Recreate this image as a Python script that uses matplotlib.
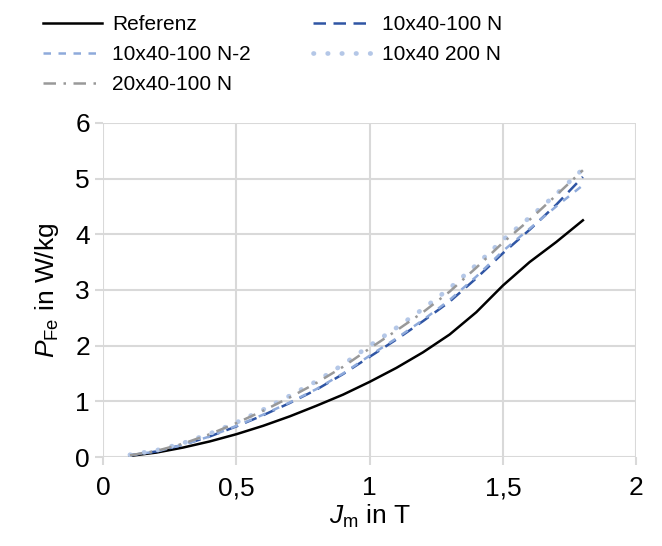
import matplotlib
matplotlib.use("Agg")
import matplotlib.pyplot as plt

plt.rcParams["font.family"] = ["Liberation Sans", "DejaVu Sans"]
plt.rcParams["mathtext.fontset"] = "custom"
plt.rcParams["mathtext.rm"] = "Liberation Sans"
plt.rcParams["mathtext.it"] = "Liberation Sans:italic"

# ── Data ──────────────────────────────────────────────────────────────────────
J = [0.1, 0.2, 0.3, 0.4, 0.5, 0.6, 0.7, 0.8, 0.9, 1.0,
     1.1, 1.2, 1.3, 1.4, 1.5, 1.6, 1.7, 1.8]
referenz = [0.02, 0.08, 0.17, 0.28, 0.41, 0.56, 0.73, 0.92, 1.12, 1.35,
            1.60, 1.88, 2.20, 2.60, 3.08, 3.50, 3.86, 4.25]
p_100n = [0.03, 0.10, 0.22, 0.37, 0.55, 0.75, 0.97, 1.21, 1.49, 1.80,
          2.11, 2.44, 2.79, 3.21, 3.66, 4.08, 4.53, 5.03]
p_100n_2 = [0.03, 0.10, 0.22, 0.37, 0.56, 0.76, 0.98, 1.22, 1.50, 1.82,
            2.13, 2.46, 2.82, 3.24, 3.70, 4.10, 4.50, 4.88]
p_200n = [0.04, 0.12, 0.25, 0.42, 0.62, 0.85, 1.10, 1.36, 1.66, 2.00,
          2.32, 2.66, 3.03, 3.45, 3.90, 4.30, 4.72, 5.17]
p_20x40 = [0.03, 0.11, 0.24, 0.41, 0.61, 0.83, 1.07, 1.33, 1.62, 1.95,
           2.27, 2.60, 2.97, 3.40, 3.85, 4.26, 4.70, 5.15]

# ── Plot ──────────────────────────────────────────────────────────────────────
fig = plt.figure(figsize=(6.62, 5.46), dpi=100)
ax = fig.add_axes([0.156, 0.163, 0.805, 0.612])

l1, = ax.plot(J, referenz, color="black", lw=1.8, label="Referenz")
l2, = ax.plot(J, p_100n, color="#2f55a4", lw=1.8, ls=(0, (5, 3)), label="10x40-100 N")
l3, = ax.plot(J, p_100n_2, color="#8eaadb", lw=1.8, ls=(0, (3, 3)), label="10x40-100 N-2")
l4, = ax.plot(J, p_200n, color="#b4c7e7", lw=3.4, ls=(0, (0.1, 2.9)), dash_capstyle="round",
              label="10x40 200 N")
l5, = ax.plot(J, p_20x40, color="#999999", lw=1.8, ls=(0, (5, 3, 1, 3)), label="20x40-100 N")

ax.set_xlim(0, 2)
ax.set_ylim(0, 6)
ax.set_xticks([0, 0.5, 1, 1.5, 2])
ax.set_xticklabels(["0", "0,5", "1", "1,5", "2"])
ax.set_yticks(range(7))
ax.grid(True, color="#d9d9d9", lw=1.5)
ax.set_axisbelow(True)
for s in ax.spines.values():
    s.set_visible(False)
ax.tick_params(axis="both", labelsize=19, color="#d9d9d9", width=1.5, length=6)
ax.tick_params(axis="x", pad=8)

ax.set_xlabel(r"$J_\mathrm{m}$ in T", fontsize=19, labelpad=2)
ax.set_ylabel(r"$P_\mathrm{Fe}$ in W/kg", fontsize=19, labelpad=10)

# row-wise order like the original legend
fig.legend(handles=[l1, l3, l5, l2, l4], ncol=2, loc="upper left",
           bbox_to_anchor=(0.037, 1.006), frameon=False, fontsize=15,
           handlelength=2.8, columnspacing=3.0, handletextpad=0.5, labelspacing=0.52)

fig.savefig("out.png", dpi=100)
